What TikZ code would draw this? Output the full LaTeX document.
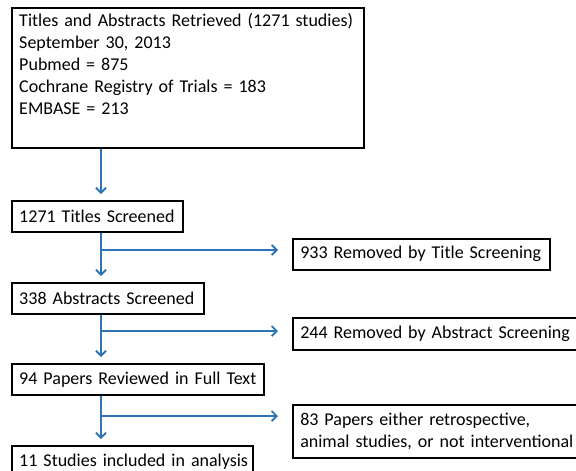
\documentclass[tikz,border=0pt]{standalone}
\usepackage{fontspec}
\setmainfont{Carlito}
\usetikzlibrary{arrows.meta}

\definecolor{flowblue}{RGB}{46,117,182}

\tikzset{
  stage/.style={draw, line width=1.5pt, anchor=north west, inner xsep=7.5pt,
    inner ysep=0pt, minimum height=31pt, align=left},
  flow/.style={flowblue, line width=1.8pt,
    -{Straight Barb[length=5pt,width=10pt,line width=1.8pt]}}
}

\begin{document}
\begin{tikzpicture}[x=1pt,y=-1pt,font=\fontsize{18}{22}\selectfont]
\useasboundingbox (0,0) rectangle (576,471);

%main column
\node[stage, minimum height=140pt, text width=337pt] (search) at (11,7)
  {Titles and Abstracts Retrieved (1271 studies)\\
   September 30, 2013\\
   Pubmed = 875\\
   Cochrane Registry of Trials = 183\\
   EMBASE = 213\\ \strut};
\node[stage, text width=156pt] (titles) at (11,200) {\mbox{1271 Titles Screened}};
\node[stage, text width=177pt] (abstracts) at (11,282) {\mbox{338 Abstracts Screened}};
\node[stage, text width=237pt] (fulltext) at (11,363) {\mbox{94 Papers Reviewed in Full Text}};
\node[stage, text width=226pt] (included) at (11,445) {\mbox{11 Studies included in analysis}};

%excluded
\node[stage, text width=242pt] (rmtitle) at (292,238) {\mbox{933 Removed by Title Screening}};
\node[stage, text width=275pt, minimum height=32pt] (rmabstract) at (292,317) {244 Removed by Abstract Screening};
\node[stage, text width=275pt, minimum height=53pt] (rmpaper) at (292,404)
  {83 Papers either retrospective,\\ animal studies, or not interventional};

%spine and branches
\coordinate (spine) at (101,0);
\coordinate (k1) at (101,250);
\coordinate (k2) at (101,331);
\coordinate (k3) at (101,416);

\draw[flow, shorten >=6pt] (search.south -| spine) -- (titles.north -| spine);
\draw[flow, shorten >=6pt] (titles.south -| spine) -- (abstracts.north -| spine);
\draw[flow, shorten >=6pt] (abstracts.south -| spine) -- (fulltext.north -| spine);
\draw[flow, shorten >=6pt] (fulltext.south -| spine) -- (included.north -| spine);

\draw[flow, shorten >=14pt] (k1) -- (k1 -| rmtitle.west);
\draw[flow, shorten >=14pt] (k2) -- (k2 -| rmabstract.west);
\draw[flow, shorten >=14pt] (k3) -- (k3 -| rmpaper.west);
\end{tikzpicture}
\end{document}
